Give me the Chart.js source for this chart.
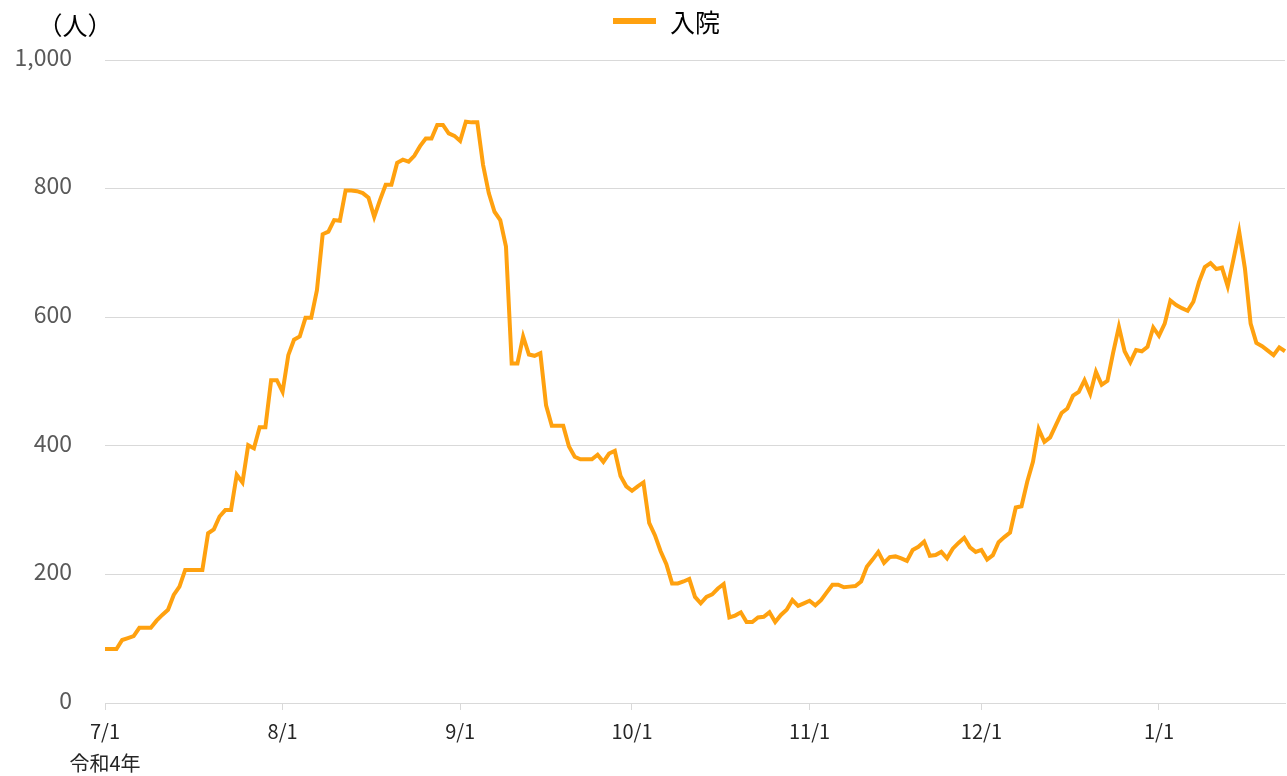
<!DOCTYPE html>
<html>
<head>
<meta charset="utf-8">
<script src="https://cdn.jsdelivr.net/npm/chart.js@4.4.1/dist/chart.umd.min.js"></script>
<style>
  html, body { margin: 0; padding: 0; background: #ffffff; }
  #wrap { width: 1287px; height: 776px; position: relative; }
</style>
</head>
<body>
<div id="wrap"><canvas id="c" width="1287" height="776"></canvas></div>
<script>
// ---- data (daily, from 令和4年 7/1) ----
const startYear = 2022, startMonth = 7, startDay = 1;
const seriesLabel = '入院';
const hospitalized = [
  84, 84, 84, 98, 101, 104, 117, 117, 117, 128,
  137, 145, 168, 181, 207, 207, 207, 207, 264, 270,
  290, 300, 300, 355, 343, 401, 396, 429, 429, 502,
  502, 484, 541, 565, 570, 599, 599, 642, 729, 733,
  751, 750, 797, 797, 796, 793, 786, 756, 782, 806,
  806, 840, 845, 842, 851, 866, 878, 878, 899, 899,
  886, 882, 874, 904, 903, 903, 837, 793, 764, 751,
  710, 528, 528, 570, 542, 540, 544, 463, 431, 431,
  431, 399, 383, 379, 379, 379, 386, 375, 388, 392,
  353, 337, 330, 337, 343, 280, 261, 236, 216, 186,
  186, 189, 193, 165, 155, 165, 169, 178, 185, 133,
  136, 141, 126, 126, 133, 134, 141, 126, 137, 145,
  160, 151, 155, 159, 152, 160, 172, 184, 184, 180,
  181, 182, 189, 212, 223, 235, 218, 227, 228, 225,
  221, 238, 243, 251, 229, 230, 235, 225, 240, 249,
  257, 242, 235, 238, 223, 230, 250, 258, 265, 304,
  306, 344, 375, 426, 406, 413, 432, 451, 458, 478,
  484, 502, 481, 515, 495, 501, 545, 585, 547, 530,
  549, 547, 554, 584, 571, 590, 626, 619, 614, 610,
  624, 655, 678, 684, 675, 677, 648, 690, 733, 676,
  590, 560, 555, 548, 541, 553, 547
];
const monthTickLabels = ['7/1', '8/1', '9/1', '10/1', '11/1', '12/1', '1/1'];
const eraLabel = '令和4年';
const unitLabel = '（人）';
const yMin = 0, yMax = 1000, yStep = 200;

// category labels (one per day)
const categories = hospitalized.map((_, i) => {
  const d = new Date(startYear, startMonth - 1, startDay + i);
  return (d.getMonth() + 1) + '/' + d.getDate();
});

const LINE_COLOR = '#FFA10F';
const CJK = '"Noto Sans CJK JP", "Noto Sans", sans-serif';

const extras = {
  id: 'extras',
  afterDraw(chart) {
    const ctx = chart.ctx;
    ctx.save();
    // unit label
    ctx.fillStyle = '#000000';
    ctx.font = '25px ' + CJK;
    ctx.textAlign = 'center';
    ctx.textBaseline = 'middle';
    ctx.fillText(unitLabel, 75, 25);
    // legend
    const ds = chart.data.datasets[0];
    ctx.fillStyle = ds.borderColor;
    ctx.fillRect(613, 18, 43, 6);
    ctx.fillStyle = '#000000';
    ctx.textAlign = 'left';
    ctx.fillText(ds.label, 670, 22);
    ctx.restore();
  }
};

new Chart(document.getElementById('c'), {
  type: 'line',
  data: {
    labels: categories,
    datasets: [{
      label: seriesLabel,
      data: hospitalized,
      borderColor: LINE_COLOR,
      backgroundColor: LINE_COLOR,
      borderWidth: 4,
      pointRadius: 0,
      pointHoverRadius: 0,
      tension: 0,
      fill: false
    }]
  },
  options: {
    responsive: false,
    animation: false,
    devicePixelRatio: 1,
    layout: { padding: { top: 60, right: 2, left: 0, bottom: 0 } },
    plugins: {
      legend: { display: false },
      tooltip: { enabled: false }
    },
    scales: {
      x: {
        type: 'category',
        offset: false,
        grid: {
          drawOnChartArea: false,
          drawTicks: true,
          tickLength: 7,
          color: '#d9d9d9'
        },
        border: { display: true, color: '#d9d9d9', width: 1 },
        ticks: {
          autoSkip: false,
          maxRotation: 0,
          minRotation: 0,
          padding: 5,
          color: '#262626',
          font: { family: CJK, size: 20, lineHeight: 1.6 },
          callback: function (value, index) {
            const lab = this.getLabelForValue(value);
            if (!monthTickLabels.includes(lab)) return null;
            return index === 0 ? [lab, eraLabel] : lab;
          }
        },
        afterFit(scale) { scale.height = 73; }
      },
      y: {
        min: yMin,
        max: yMax,
        grid: { color: '#d9d9d9', drawTicks: false, lineWidth: 1 },
        border: { display: false },
        ticks: {
          stepSize: yStep,
          padding: 33,
          labelOffset: -3,
          color: '#595959',
          font: { family: CJK, size: 23 },
          callback: (v) => v.toLocaleString('en-US')
        },
        afterFit(scale) { scale.width = 105; }
      }
    }
  },
  plugins: [extras]
});
</script>
</body>
</html>
